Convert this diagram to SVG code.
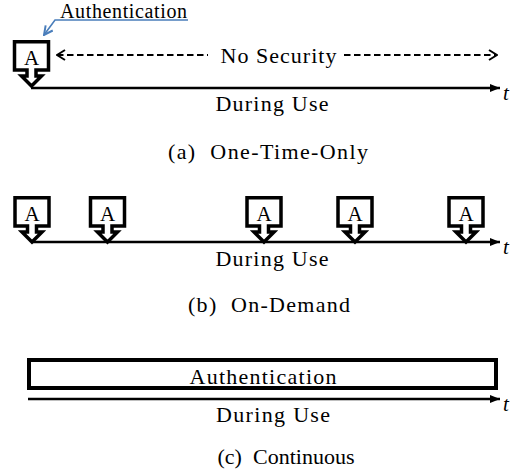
<svg xmlns="http://www.w3.org/2000/svg" width="510" height="473" viewBox="0 0 510 473">
<style>
  text { font-family: "Liberation Serif", "Times New Roman", "DejaVu Serif", serif; fill: #000; }
  .lbl { font-size: 22px; text-anchor: middle; }
  .sm { font-size: 20px; }
  .a { font-size: 21px; text-anchor: middle; }
  .t { font-size: 21px; font-style: italic; }
  .co { fill: #fff; stroke: #000; stroke-width: 3.5; stroke-linejoin: miter; }
  .axis { stroke: #000; stroke-width: 2.5; fill: none; }
  .dash { stroke: #000; stroke-width: 2; stroke-dasharray: 6.5 3.5; fill: none; }
  .blue { stroke: #4a7ebb; stroke-width: 1.6; fill: none; }
</style>
<defs>
  <marker id="tri" viewBox="0 0 10 8" refX="10" refY="4" markerWidth="10" markerHeight="8" markerUnits="userSpaceOnUse" orient="auto">
    <path d="M0,0 L10,4 L0,8 Z" fill="#000"/>
  </marker>
  <marker id="chev" viewBox="0 0 10 12" refX="9" refY="6" markerWidth="10" markerHeight="12" markerUnits="userSpaceOnUse" orient="auto-start-reverse">
    <path d="M1,1 L9,6 L1,11" fill="none" stroke="#000" stroke-width="2"/>
  </marker>
  <marker id="bluehead" viewBox="0 0 10 10" refX="9" refY="5" markerWidth="11" markerHeight="11" markerUnits="userSpaceOnUse" orient="auto">
    <path d="M1,1 L9,5 L1,9" fill="none" stroke="#4a7ebb" stroke-width="1.8"/>
  </marker>
  <path id="callout" d="M-17,1.75 H17 V30 H4.5 V36 H10 L0,46 L-10,36 H-4.5 V30 H-17 Z"/>
</defs>

<!-- (a) One-Time-Only -->
<g id="connectors-a">
  <line class="axis" x1="31" y1="88" x2="500" y2="88" marker-end="url(#tri)"/>
  <line class="dash" x1="57" y1="55" x2="208" y2="55" marker-start="url(#chev)"/>
  <line class="dash" x1="344" y1="55" x2="497" y2="55" marker-end="url(#chev)"/>
  <polyline class="blue" points="188,20 55,20 44,35" marker-end="url(#bluehead)"/>
</g>
<g id="auth-a">
  <use href="#callout" class="co" transform="translate(31.5,40)"/>
  <text class="a" x="31.5" y="65">A</text>
</g>
<g id="label-a">
  <text class="lbl sm" x="123.5" y="18" textLength="127" lengthAdjust="spacing">Authentication</text>
  <text class="lbl" x="278.5" y="63" textLength="116" lengthAdjust="spacing">No Security</text>
  <text class="t" x="503" y="100">t</text>
  <text class="lbl" x="272" y="111" textLength="113" lengthAdjust="spacing">During Use</text>
  <text class="lbl" x="268" y="159" textLength="200" lengthAdjust="spacing">(a)&#160; One-Time-Only</text>
</g>

<!-- (b) On-Demand -->
<g id="connectors-b">
  <line class="axis" x1="31" y1="242" x2="500" y2="242" marker-end="url(#tri)"/>
</g>
<g id="auth-b1"><use href="#callout" class="co" transform="translate(32,196)"/><text class="a" x="32" y="221">A</text></g>
<g id="auth-b2"><use href="#callout" class="co" transform="translate(107.5,196)"/><text class="a" x="107.5" y="221">A</text></g>
<g id="auth-b3"><use href="#callout" class="co" transform="translate(264,196)"/><text class="a" x="264" y="221">A</text></g>
<g id="auth-b4"><use href="#callout" class="co" transform="translate(355,196)"/><text class="a" x="355" y="221">A</text></g>
<g id="auth-b5"><use href="#callout" class="co" transform="translate(466,196)"/><text class="a" x="466" y="221">A</text></g>
<g id="label-b">
  <text class="t" x="503" y="254">t</text>
  <text class="lbl" x="272" y="266" textLength="113" lengthAdjust="spacing">During Use</text>
  <text class="lbl" x="269" y="312" textLength="162" lengthAdjust="spacing">(b)&#160; On-Demand</text>
</g>

<!-- (c) Continuous -->
<g id="connectors-c">
  <line class="axis" x1="28" y1="399" x2="500" y2="399" marker-end="url(#tri)"/>
</g>
<g id="auth-c">
  <rect x="29" y="360" width="467" height="28" fill="#fff" stroke="#000" stroke-width="4"/>
  <text class="lbl" x="263" y="384" textLength="147" lengthAdjust="spacing">Authentication</text>
</g>
<g id="label-c">
  <text class="t" x="503" y="411">t</text>
  <text class="lbl" x="273" y="422" textLength="114" lengthAdjust="spacing">During Use</text>
  <text class="lbl" x="286" y="464" textLength="137" lengthAdjust="spacing">(c)&#160; Continuous</text>
</g>
</svg>
